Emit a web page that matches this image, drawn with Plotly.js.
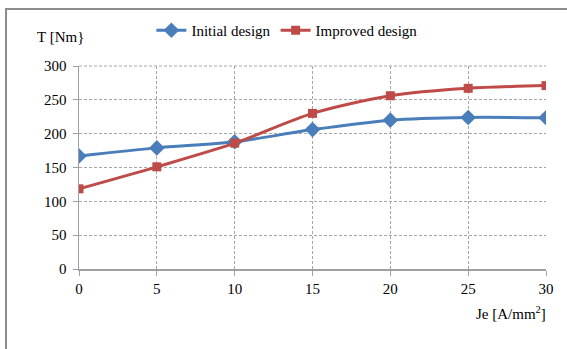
<!DOCTYPE html>
<html>
<head>
<meta charset="utf-8">
<script src="https://cdn.plot.ly/plotly-3.0.1.min.js"></script>
<style>
  html, body { margin: 0; padding: 0; background: #fff; overflow: hidden; }
  #frame { position: absolute; left: 5px; top: 8px; width: 600px; height: 400px;
           border-top: 2px solid #8c8c8c; border-left: 2px solid #8c8c8c; }
  #chart { position: absolute; left: 0; top: 0; width: 567px; height: 349px; }
  #ytitle { position: absolute; left: 37px; top: 29px; font-family: 'Liberation Serif';
            font-size: 15px; line-height: 17px; color: #000; white-space: nowrap; z-index: 2; }
</style>
</head>
<body>
<div id="frame"></div>
<div id="ytitle">T [Nm}</div>
<div id="chart"></div>
<script>
// Current density Je [A/mm²] and torque T [Nm] for both designs
const currentDensity = [0, 5, 10, 15, 20, 25, 30];
const torqueInitial  = [167, 179, 188, 206, 220, 224, 223.5];
const torqueImproved = [118.5, 151, 186, 230, 256, 267, 271];
const xTicks = [0, 5, 10, 15, 20, 25, 30];
const yTicks = [0, 50, 100, 150, 200, 250, 300];

const serif = 'Liberation Serif';
const blue = '#4a7ebb';
const red = '#be4b48';

const traces = [
  {
    x: currentDensity, y: torqueInitial, name: 'Initial design',
    mode: 'lines+markers', type: 'scatter',
    line: { color: blue, width: 3, shape: 'spline', smoothing: 0.8 },
    marker: { symbol: 'diamond', size: 12, color: blue }
  },
  {
    x: currentDensity, y: torqueImproved, name: 'Improved design',
    mode: 'lines+markers', type: 'scatter',
    line: { color: red, width: 3, shape: 'spline', smoothing: 0.8 },
    marker: { symbol: 'square', size: 9, color: red }
  }
];

const layout = {
  width: 567, height: 349,
  margin: { l: 79, r: 21, t: 66, b: 80, autoexpand: false },
  paper_bgcolor: 'rgba(0,0,0,0)',
  plot_bgcolor: 'rgba(0,0,0,0)',
  font: { family: serif, size: 15, color: '#000' },
  showlegend: true,
  legend: {
    orientation: 'h', x: 0.155, y: 1.175, xanchor: 'left', yanchor: 'middle',
    font: { family: serif, size: 15, color: '#000' },
    bgcolor: 'rgba(0,0,0,0)', itemwidth: 30, tracegroupgap: 0
  },
  xaxis: {
    range: [0, 30], tickvals: xTicks, ticktext: xTicks.map(String),
    showgrid: true, gridcolor: '#a6a6a6', griddash: '3px,2px', gridwidth: 1,
    showline: true, linecolor: '#a0a0a0', linewidth: 1.5,
    ticks: 'outside', ticklen: 5, tickcolor: '#a0a0a0',
    zeroline: false, tickfont: { family: serif, size: 15, color: '#000' },
    fixedrange: true
  },
  yaxis: {
    range: [0, 300], tickvals: yTicks, ticktext: yTicks.map(String),
    showgrid: true, gridcolor: '#a6a6a6', griddash: '3px,2px', gridwidth: 1,
    showline: true, linecolor: '#a0a0a0', linewidth: 1.5,
    ticks: 'outside', ticklen: 5, tickcolor: '#a0a0a0', ticklabelstandoff: 3,
    zeroline: false, tickfont: { family: serif, size: 15, color: '#000' },
    fixedrange: true
  },
  shapes: [
    // dashed top border of the plotting area
    { type: 'line', xref: 'paper', yref: 'paper', x0: 0, x1: 1, y0: 1, y1: 1,
      line: { color: '#a6a6a6', width: 1, dash: '3px,2px' } }
  ],
  annotations: [
    { text: 'Je [A/mm<sup>2</sup>]', xref: 'paper', yref: 'paper', x: 1.005, y: -0.215,
      xanchor: 'right', yanchor: 'middle', showarrow: false,
      font: { family: serif, size: 15, color: '#000' } }
  ]
};

Plotly.newPlot('chart', traces, layout, { displayModeBar: false, staticPlot: true });
</script>
</body>
</html>
